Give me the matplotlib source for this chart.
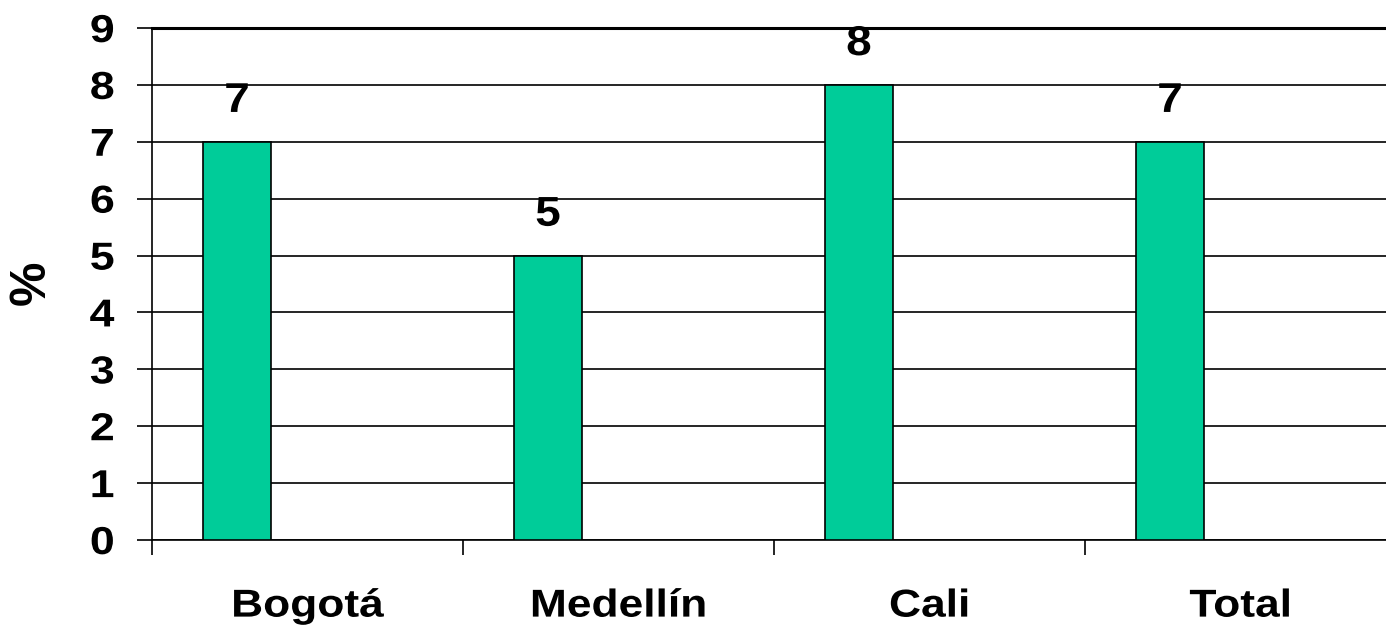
import matplotlib
matplotlib.use("Agg")
import matplotlib.pyplot as plt
import numpy as np
from matplotlib.patheffects import AbstractPathEffect
from matplotlib.transforms import Affine2D

categories = ["Bogotá", "Medellín", "Cali", "Total"]
values = [7, 5, 8, 7]
yticks = list(range(0, 10))

plt.rcParams['font.family'] = ['Liberation Sans', 'DejaVu Sans']
plt.rcParams['font.weight'] = 'bold'


class Stretch(AbstractPathEffect):
    """Horizontally widen glyphs (reference text is rendered slightly wide)."""
    def __init__(self, sx=1.14, anchor='center'):
        super().__init__()
        self.sx = sx
        self.anchor = anchor

    def draw_path(self, renderer, gc, tpath, affine, rgbFace=None):
        verts = affine.transform(tpath.vertices) if len(tpath.vertices) else None
        if verts is None:
            renderer.draw_path(gc, tpath, affine, rgbFace)
            return
        if self.anchor == 'right':
            cx = verts[:, 0].max()
        elif self.anchor == 'left':
            cx = verts[:, 0].min()
        else:
            cx = 0.5 * (verts[:, 0].min() + verts[:, 0].max())
        new_aff = affine + Affine2D().translate(-cx, 0).scale(self.sx, 1).translate(cx, 0)
        renderer.draw_path(gc, tpath, new_aff, rgbFace)


fig = plt.figure(figsize=(13.86, 6.29), dpi=100)
ax = fig.add_axes([152/1386, 1-540/629, 1244/1386, 512/629])

x = np.arange(len(categories))
bar_off = 0.273
bar_w = 0.219
ax.bar(x + bar_off, values, width=bar_w, color='#00CC99',
       edgecolor='black', linewidth=1.2, zorder=3)

for xi, v in zip(x, values):
    ax.annotate(f"{v}", (xi + bar_off, v), xytext=(0, 15), textcoords='offset points',
                ha='center', va='bottom', fontsize=30, fontweight='bold',
                path_effects=[Stretch(1.1)])

ax.set_xlim(0, len(categories))
ax.set_ylim(0, 9)
ax.set_yticks(yticks)
ax.set_yticklabels([str(t) for t in yticks], fontsize=28, fontweight='bold')
ax.tick_params(axis='y', length=11, width=1.2, pad=16)
for lab in ax.get_yticklabels():
    lab.set_path_effects([Stretch(1.15, 'right')])

ax.set_xticks(np.arange(len(categories)))
ax.set_xticklabels([])
ax.set_xticks(x + 0.5, minor=True)
ax.set_xticklabels(categories, minor=True, fontsize=28, fontweight='bold')
ax.tick_params(axis='x', which='major', length=11, width=1.2)
ax.tick_params(axis='x', which='minor', length=0, pad=35)
for lab in ax.get_xticklabels(minor=True):
    lab.set_path_effects([Stretch(1.14)])

ax.yaxis.grid(True, color='black', linewidth=1.2, zorder=0)
ax.set_axisbelow(True)
for s in ['top', 'right']:
    ax.spines[s].set_visible(False)
ax.spines['left'].set_linewidth(1.2)
ax.spines['bottom'].set_linewidth(1.2)
ax.axhline(9, color='black', linewidth=2.2, zorder=1, clip_on=False)

fig.text(32/1386, 1-283/629, "%", rotation=90, ha='center', va='center',
         fontsize=36, fontweight='bold')

fig.savefig("out.png", dpi=100)
